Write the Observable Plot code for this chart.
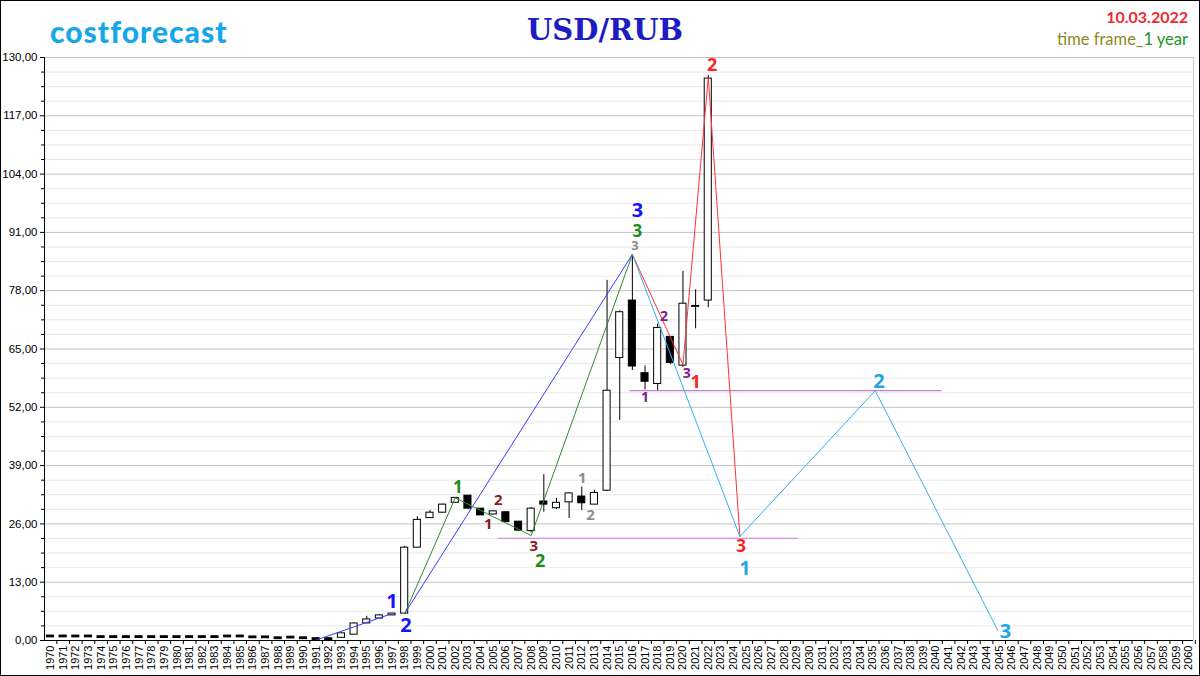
<!DOCTYPE html>
<html><head><meta charset="utf-8">
<script src="https://cdn.jsdelivr.net/npm/d3@7"></script>
<script src="https://cdn.jsdelivr.net/npm/@observablehq/plot@0.6"></script>
<style>
body{margin:0;background:#fff;}
#wrap{position:relative;width:1200px;height:676px;overflow:hidden;background:#fff;}
#chart{position:absolute;left:0;top:0;}
#titles{position:absolute;left:0;top:0;}
#border{position:absolute;left:0;top:0;width:1200px;height:676px;box-sizing:border-box;border:1px solid #000;pointer-events:none;}
</style></head><body>
<div id="wrap">
<div id="chart"></div>
<svg id="titles" width="1200" height="60" xmlns="http://www.w3.org/2000/svg">
  <text x="50" y="43" font-family="Lato, 'Open Sans', sans-serif" font-weight="900" font-size="30" letter-spacing="1" fill="#16a6ea">costforecast</text>
  <text x="605" y="40" text-anchor="middle" font-family="'DejaVu Serif', 'Liberation Serif', serif" font-weight="bold" font-size="29" fill="#1c1cc4">USD/RUB</text>
  <text x="1188" y="23" text-anchor="end" font-family="Lato, 'Open Sans', sans-serif" font-weight="bold" font-size="16" fill="#ee2a2e">10.03.2022</text>
  <text x="1188" y="45" text-anchor="end" font-family="Lato, 'Open Sans', sans-serif" font-size="16.5"><tspan fill="#8a8a1c">time frame_</tspan><tspan fill="#1e9428">1 year</tspan></text>
</svg>
<div id="border"></div>
</div>
<script>
// ---- candle data (yearly) ----
const years = [1970,1971,1972,1973,1974,1975,1976,1977,1978,1979,1980,1981,1982,1983,1984,1985,1986,1987,1988,1989,1990,1991,1992,
  1993,1994,1995,1996,1997,1998,1999,2000,2001,2002,2003,2004,2005,2006,2007,2008,2009,2010,2011,2012,2013,2014,2015,2016,2017,2018,2019,2020,2021,2022];
const open  = [1.1,1.1,1.1,1.1,0.95,0.95,0.95,0.95,0.95,0.95,0.95,0.95,0.95,0.95,1.1,1.1,0.9,0.9,0.7,0.85,0.7,0.5,0.5,
  0.6,1.3,3.8,4.9,5.6,6.0,20.7,27.3,28.5,30.7,32.3,29.4,28.1,28.6,26.5,24.4,31.0,29.5,30.8,32.1,30.3,33.4,63.0,75.8,59.6,57.2,67.7,61.3,74.6,75.8];
const high  = [1.1,1.1,1.1,1.1,0.95,0.95,0.95,0.95,0.95,0.95,0.95,0.95,0.95,0.95,1.1,1.1,0.9,0.9,0.7,0.85,0.7,0.5,0.5,
  1.6,3.9,5.4,5.7,6.0,21.0,27.6,29.0,30.4,31.9,32.3,29.4,28.9,28.6,26.5,29.7,37.0,31.7,32.9,34.2,33.5,80.3,73.5,86.1,61.2,70.6,67.7,82.3,78.2,126.0];
const low   = [0.7,0.7,0.7,0.7,0.55,0.55,0.55,0.55,0.55,0.55,0.55,0.55,0.55,0.55,0.7,0.7,0.5,0.5,0.3,0.45,0.3,0.1,0.1,
  0.6,1.3,3.8,4.9,5.6,6.0,20.7,27.3,28.5,30.7,29.4,27.9,28.0,26.4,24.3,24.0,28.6,29.2,27.2,29.0,30.3,33.2,49.1,60.2,55.9,55.7,61.5,60.9,69.5,74.2];
const close = [0.7,0.7,0.7,0.7,0.55,0.55,0.55,0.55,0.55,0.55,0.55,0.55,0.55,0.55,0.7,0.7,0.5,0.5,0.3,0.45,0.3,0.1,0.1,
  1.6,3.8,4.7,5.6,6.0,20.7,26.9,28.5,30.3,31.8,29.4,27.9,28.8,26.4,24.5,29.4,30.3,30.7,32.8,30.6,32.9,55.7,73.2,61.1,57.7,69.7,61.9,75.1,74.4,125.3];

// ---- wave markup lines ----
const blueAX = [1991, 1997], blueAY = [0.1, 6.0];
const blueBX = [1998, 2016], blueBY = [6.0, 86.1];
const greenX = [1998, 2002, 2008, 2016], greenY = [6.0, 31.8, 23.4, 86.1];
const redX = [2016, 2020, 2022, 2024.5], redY = [86.1, 61.5, 125.5, 23.2];
const skyX = [2016, 2024.5, 2035.2, 2044.9], skyY = [86.1, 23.2, 55.7, 2.2];
const violetAX = [2005.4, 2029.05], violetAY = [22.8, 22.8];
const violetBX = [2015.8, 2040.4], violetBY = [55.7, 55.7];

// ---- wave labels ----
const labelText  = ["1","2","3","3","3","1","2","1","2","3","1","2","1","2","3","1","2","3","1","2","3"];
const labelYear  = [1997,1998.1,2016.4,2016.4,2016.2,2002.2,2008.7,2004.6,2005.4,2008.2,2012.05,2012.7,2017.0,2018.5,2020.3,2021.0,2022.3,2024.6,2024.9,2035.5,2045.5];
const labelValue = [8.7,3.3,95.9,91.3,87.9,34.1,17.6,25.9,31.2,21.0,36.3,27.9,54.2,72.2,59.5,57.7,128.2,21.0,16.0,57.7,2.0];
const labelColor = ["#1414ff","#1414ff","#1414ff","#1a8c1a","#8c8c8c","#1a8c1a","#1a8c1a","#8b1c24","#8b1c24","#8b1c24","#8c8c8c","#8c8c8c",
  "#7d1a8c","#7d1a8c","#7d1a8c","#ff2222","#ff2222","#ff2222","#1ea5e6","#1ea5e6","#1ea5e6"];
const labelSize  = [20,20,20,17,13,17,18,15,15,15,15,15,14,14,14,18,18,17,19,20,20];

// ---- axis ticks ----
const majorTicks = [0,13,26,39,52,65,78,91,104,117,130];
const minorTicks = d3.range(0, 130.01, 3.25).filter(v => !majorTicks.includes(v));
const yearTicks = d3.range(1970, 2061);
const yearBounds = d3.range(1970.5, 2060.6, 1);

const candles = years.map((y, i) => ({year: y, open: open[i], high: high[i], low: low[i], close: close[i]}));
const pts = (xs, ys) => xs.map((x, i) => ({x, y: ys[i]}));
const labels = labelText.map((t, i) => ({t, x: labelYear[i], y: labelValue[i], c: labelColor[i], s: labelSize[i]}));

const x0 = 1969.526, x1 = 2060.36;

const chart = Plot.plot({
  width: 1200, height: 676,
  marginLeft: 44, marginRight: 7, marginTop: 57, marginBottom: 36,
  style: {fontFamily: "'Liberation Sans', Arial, sans-serif", fontSize: "11.5px", background: "transparent", color: "#000"},
  x: {domain: [x0, x1], axis: null},
  y: {domain: [0, 130], axis: null},
  color: {type: "identity"},
  marks: [
    Plot.ruleY(minorTicks, {stroke: "#e9e9e9"}),
    Plot.ruleY(majorTicks.filter(v => v > 0), {stroke: "#c2c2c2"}),
    Plot.ruleX([x1], {stroke: "#c8c8c8"}),
    Plot.line(pts(violetAX, violetAY), {x: "x", y: "y", stroke: "#c77dd4", strokeWidth: 1.2}),
    Plot.line(pts(violetBX, violetBY), {x: "x", y: "y", stroke: "#c77dd4", strokeWidth: 1.2}),
    Plot.ruleX(candles, {x: "year", y1: "low", y2: "high", stroke: "#000", strokeWidth: 1}),
    Plot.rect(candles, {x1: d => d.year - 0.28, x2: d => d.year + 0.28, y1: "open", y2: "close",
      fill: d => d.close > d.open ? "#fff" : "#000", stroke: "#000", strokeWidth: 1}),
    Plot.line(pts(blueAX, blueAY), {x: "x", y: "y", stroke: "#3b3bff", strokeWidth: 1}),
    Plot.line(pts(blueBX, blueBY), {x: "x", y: "y", stroke: "#3b3bff", strokeWidth: 1}),
    Plot.line(pts(greenX, greenY), {x: "x", y: "y", stroke: "#2e8b2e", strokeWidth: 1}),
    Plot.line(pts(redX, redY), {x: "x", y: "y", stroke: "#ff3333", strokeWidth: 1}),
    Plot.line(pts(skyX, skyY), {x: "x", y: "y", stroke: "#33b0ee", strokeWidth: 1}),
    Plot.ruleX([x0], {stroke: "#000"}),
    Plot.ruleY([0], {stroke: "#000"}),
    Plot.axisY(majorTicks, {tickSize: 4, tickPadding: 3, tickFormat: d => d.toFixed(2).replace(".", ","), label: null}),
    Plot.axisY(minorTicks, {tickSize: 3, tickFormat: () => "", label: null}),
    Plot.axisX(yearBounds, {tickSize: 4, tickFormat: () => "", label: null}),
    Plot.axisX(yearTicks, {tickSize: 0, tickPadding: 5, tickRotate: -90, tickFormat: d => String(d), label: null, fontSize: 11}),
    Plot.text(labels, {x: "x", y: "y", text: "t", fill: "c", fontSize: "s", fontWeight: "bold",
      fontFamily: "'Open Sans', 'DejaVu Sans', sans-serif"})
  ]
});
document.getElementById("chart").appendChild(chart);
</script>
</body></html>
